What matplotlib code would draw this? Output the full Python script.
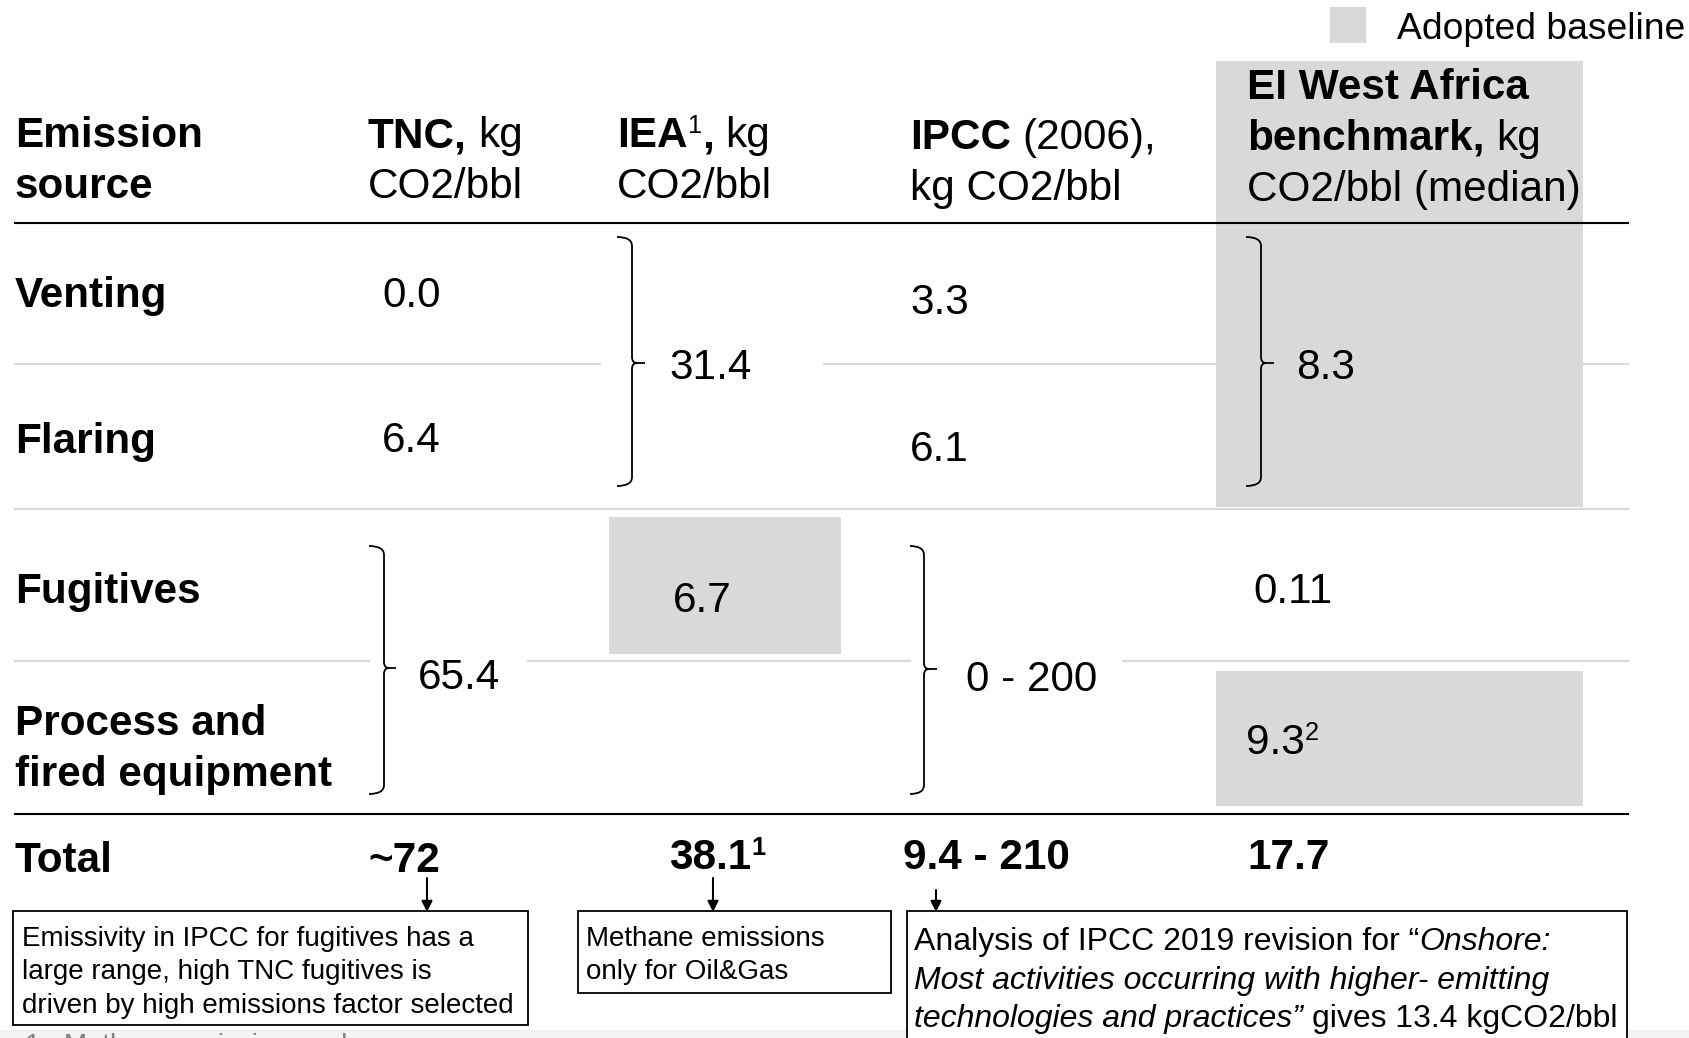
import matplotlib
matplotlib.use("Agg")
import matplotlib.pyplot as plt
from matplotlib.patches import Rectangle, PathPatch
from matplotlib.path import Path

# ---- table content ----
row_labels = [["Venting"], ["Flaring"], ["Fugitives"], ["Process and", "fired equipment"]]
tnc_values = ["0.0", "6.4"]          # venting, flaring
tnc_fug_proc = "65.4"                # fugitives + process (bracketed)
iea_vent_flare = "31.4"              # bracketed
iea_fugitives = "6.7"
ipcc_values = ["3.3", "6.1"]
ipcc_fug_proc = "0 - 200"
ei_vent_flare = "8.3"
ei_fugitives = "0.11"
ei_process = "9.3"
totals = ["~72", "38.1", "9.4 - 210", "17.7"]
total_sups = ["", "1", "", ""]
note_tnc = ["Emissivity in IPCC for fugitives has a",
            "large range, high TNC fugitives is",
            "driven by high emissions factor selected"]
note_iea = ["Methane emissions", "only for Oil&Gas"]

W, H = 1689, 1038
FAM = "Liberation Sans"
FS = 30.4
NFS = 20
NFS3 = 23
GREY = "#d9d9d9"

fig = plt.figure(figsize=(W / 100, H / 100), dpi=100)
ax = fig.add_axes([0, 0, 1, 1])
ax.set_xlim(0, W)
ax.set_ylim(H, 0)
ax.axis("off")
renderer = fig.canvas.get_renderer()

_space_cache = {}


def space_w(size, weight, style):
    key = (size, weight, style)
    if key not in _space_cache:
        ws = []
        for s in ("a a", "aa"):
            t = ax.text(0, 0, s, fontsize=size, fontweight=weight, fontstyle=style, family=FAM)
            ws.append(t.get_window_extent(renderer).width)
            t.remove()
        _space_cache[key] = ws[0] - ws[1]
    return _space_cache[key]


def put(x, y, parts, size=FS, color="black"):
    # parts: (text, weight, style, scale, rise in px)
    for txt, weight, style, scale, rise in parts:
        s = size * scale
        lead = len(txt) - len(txt.lstrip(" "))
        x += lead * space_w(s, weight, style)
        t = ax.text(x, y - rise, txt.lstrip(" "), fontsize=s, fontweight=weight,
                    fontstyle=style, family=FAM, va="baseline", ha="left", color=color)
        x += t.get_window_extent(renderer).width
    return x


def R(t):
    return (t, "normal", "normal", 1, 0)


def B(t):
    return (t, "bold", "normal", 1, 0)


def I(t):
    return (t, "normal", "italic", 1, 0)


def brace(xh, xl, xt, top, bot, mid, r=9):
    verts = [(xh, top), (xl, top), (xl, top + r),
             (xl, mid - 6), (xl, mid), (xl + 5, mid),
             (xt, mid),
             (xl + 5, mid), (xl, mid), (xl, mid + 6),
             (xl, bot - r), (xl, bot), (xh, bot)]
    codes = [Path.MOVETO, Path.CURVE3, Path.CURVE3,
             Path.LINETO, Path.CURVE3, Path.CURVE3,
             Path.LINETO,
             Path.MOVETO, Path.CURVE3, Path.CURVE3,
             Path.LINETO, Path.CURVE3, Path.CURVE3]
    ax.add_patch(PathPatch(Path(verts, codes), fc="none", ec="black", lw=1.3, zorder=3))


# ---- shaded "adopted baseline" cells ----
ax.add_patch(Rectangle((1216, 61), 367, 446, fc=GREY, ec="none", zorder=0))
ax.add_patch(Rectangle((609, 517), 232, 137, fc=GREY, ec="none", zorder=0))
ax.add_patch(Rectangle((1216, 671), 367, 135, fc=GREY, ec="none", zorder=0))

# legend
ax.add_patch(Rectangle((1330, 7), 36, 36, fc=GREY, ec="none"))
put(1397, 39, [R("Adopted baseline")], size=26.8)

# ---- rules ----
ax.plot([15, 1628], [223, 223], color="black", lw=1.5)
ax.plot([15, 1628], [814, 814], color="black", lw=1.5)
for x0, x1 in [(15, 600), (824, 1216), (1583, 1628)]:
    ax.plot([x0, x1], [364, 364], color=GREY, lw=1.5, zorder=1)
ax.plot([15, 1628], [509, 509], color=GREY, lw=1.5, zorder=1)
for x0, x1 in [(15, 369), (528, 910), (1123, 1628)]:
    ax.plot([x0, x1], [661, 661], color=GREY, lw=1.5, zorder=1)

# ---- header ----
put(15, 147, [B("Emission")])
put(15, 198, [B("source")])
put(368, 147, [B("TNC,"), R(" kg")])
put(368, 198, [R("CO2/bbl")])
put(617, 147, [B("IEA"), ("1", "normal", "normal", 0.6, 14), B(","), R(" kg")])
put(617, 198, [R("CO2/bbl")])
put(910, 149, [B("IPCC"), R(" (2006),")])
put(910, 200, [R("kg CO2/bbl")])
put(1247, 99, [B("EI West Africa")])
put(1247, 150, [B("benchmark,"), R(" kg")])
put(1247, 201, [R("CO2/bbl (median)")])

# ---- row labels ----
label_base = [307, 453, 603, 735]
for lines, yb in zip(row_labels, label_base):
    for k, line in enumerate(lines):
        put(15, yb + 51 * k, [B(line)])
put(15, 872, [B("Total")])

# ---- values ----
put(382, 307, [R(tnc_values[0])])
put(382, 452, [R(tnc_values[1])])
brace(369, 384, 396, 546, 794, 668)
put(418, 689, [R(tnc_fug_proc)])

brace(617, 632, 645, 237, 486, 363)
put(669, 379, [R(iea_vent_flare)])
put(673, 612, [R(iea_fugitives)])

put(910, 314, [R(ipcc_values[0])])
put(910, 461, [R(ipcc_values[1])])
brace(910, 924, 937, 546, 794, 669)
put(966, 691, [R(ipcc_fug_proc)])

brace(1246, 1261, 1274, 237, 486, 363)
put(1296, 379, [R(ei_vent_flare)])
put(1253, 603, [R(ei_fugitives)])
put(1246, 754, [R(ei_process), ("2", "normal", "normal", 0.6, 14)])

# ---- totals ----
total_x = [368, 669, 903, 1247]
total_y = [872, 869, 869, 869]
for val, sup, x, y in zip(totals, total_sups, total_x, total_y):
    parts = [B(val)]
    if sup:
        parts.append((sup, "bold", "normal", 0.6, 14))
    put(x, y, parts)

# ---- arrows ----
for x, y0 in [(427, 878), (713, 878), (936, 890)]:
    ax.annotate("", xy=(x, 912), xytext=(x, y0),
                arrowprops=dict(arrowstyle="-|>", color="black", lw=1.5,
                                mutation_scale=16, shrinkA=0, shrinkB=0))

# ---- note boxes ----
ax.add_patch(Rectangle((13, 911), 515, 114, fc="white", ec="black", lw=1.3, zorder=2))
ax.add_patch(Rectangle((578, 911), 313, 82, fc="white", ec="black", lw=1.3, zorder=2))
ax.add_patch(Rectangle((907, 911), 720, 140, fc="white", ec="black", lw=1.3, zorder=2))
for line, yb in zip(note_tnc, [946, 979, 1013]):
    put(22, yb, [R(line)], size=NFS)
for line, yb in zip(note_iea, [946, 979]):
    put(586, yb, [R(line)], size=NFS)
put(914, 950, [R("Analysis of IPCC 2019 revision for \u201c"), I("Onshore:")], size=NFS3)
put(914, 989, [I("Most activities occurring with higher- emitting")], size=NFS3)
put(914, 1027, [I("technologies and practices\u201d"), R(" gives 13.4 kgCO2/bbl")], size=NFS3)

# cut-off footnote at the bottom edge
ax.add_patch(Rectangle((0, 1030), W, 10, fc="#f3f3f3", ec="none", zorder=0))
put(25, 1053, [R("1"), R("   Methane emissions only")], size=NFS, color="#7f7f7f")

fig.savefig("out.png", dpi=100)
